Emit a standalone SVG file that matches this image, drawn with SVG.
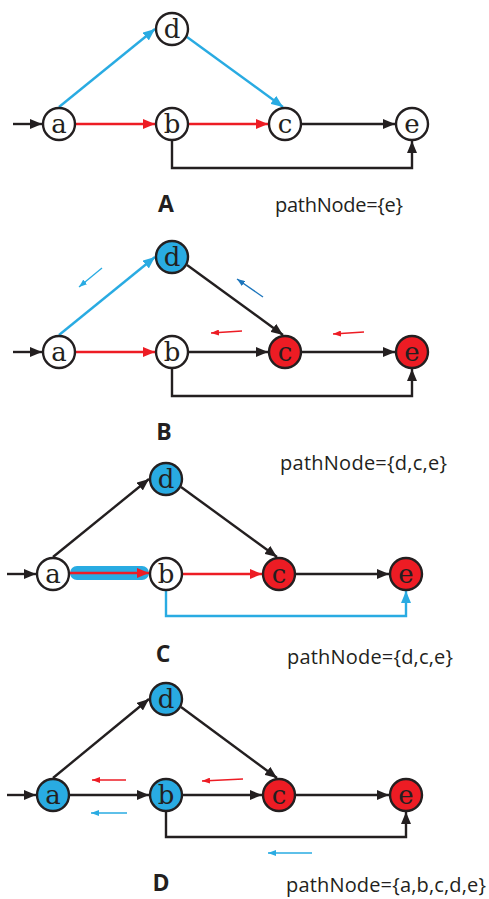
<svg xmlns="http://www.w3.org/2000/svg" width="489" height="899" viewBox="0 0 489 899">
  <style>
    .node { stroke: #231f20; stroke-width: 2.4; }
    .plain { fill: #ffffff; }
    .blue { fill: #29abe2; }
    .red { fill: #ed1c24; }
    .lbl { font-family: "DejaVu Serif", "Liberation Serif", serif; font-size: 26px; fill: #231f20; text-anchor: middle; }
    .edge { fill: none; stroke-width: 2.4; stroke-linejoin: miter; }
    .k { stroke: #231f20; marker-end: url(#ahK); }
    .r { stroke: #ed1c24; marker-end: url(#ahR); }
    .b { stroke: #29abe2; marker-end: url(#ahB); }
    .hint { fill: none; stroke-width: 1.3; }
    .hr { stroke: #ed1c24; marker-end: url(#shR); }
    .hb { stroke: #29abe2; marker-end: url(#shB); }
    .hd { stroke: #1c75bc; marker-end: url(#shD); }
    .title { font-family: "Open Sans", "Liberation Sans", sans-serif; font-weight: bold; font-size: 23px; fill: #231f20; text-anchor: middle; }
    .set { font-family: "Open Sans", "Liberation Sans", sans-serif; font-size: 20px; fill: #231f20; }
  </style>
  <defs>
    <marker id="ahK" markerUnits="userSpaceOnUse" markerWidth="12" markerHeight="10" viewBox="0 0 12 10" refX="12" refY="5" orient="auto">
      <path d="M0,0 L12,5 L0,10 Z" fill="#231f20"/>
    </marker>
    <marker id="ahR" markerUnits="userSpaceOnUse" markerWidth="12" markerHeight="10" viewBox="0 0 12 10" refX="12" refY="5" orient="auto">
      <path d="M0,0 L12,5 L0,10 Z" fill="#ed1c24"/>
    </marker>
    <marker id="ahB" markerUnits="userSpaceOnUse" markerWidth="12" markerHeight="10" viewBox="0 0 12 10" refX="12" refY="5" orient="auto">
      <path d="M0,0 L12,5 L0,10 Z" fill="#29abe2"/>
    </marker>
    <marker id="shR" markerUnits="userSpaceOnUse" markerWidth="8" markerHeight="6" viewBox="0 0 8 6" refX="8" refY="3" orient="auto">
      <path d="M0,0 L8,3 L0,6 Z" fill="#ed1c24"/>
    </marker>
    <marker id="shB" markerUnits="userSpaceOnUse" markerWidth="8" markerHeight="6" viewBox="0 0 8 6" refX="8" refY="3" orient="auto">
      <path d="M0,0 L8,3 L0,6 Z" fill="#29abe2"/>
    </marker>
    <marker id="shD" markerUnits="userSpaceOnUse" markerWidth="8" markerHeight="6" viewBox="0 0 8 6" refX="8" refY="3" orient="auto">
      <path d="M0,0 L8,3 L0,6 Z" fill="#1c75bc"/>
    </marker>
  </defs>

  <!-- Step A -->
  <g id="edges-A">
    <path class="edge k" d="M13,124 H42"/>
    <path class="edge b" d="M59,107 L155,29"/>
    <path class="edge b" d="M187,37 L283,107"/>
    <path class="edge r" d="M76,124 H155"/>
    <path class="edge r" d="M189,124 H268"/>
    <path class="edge k" d="M302,124 H395"/>
    <path class="edge k" d="M172,141 V168 H412 V141"/>
  </g>
  <g id="A-a"><circle class="node plain" cx="59" cy="124" r="16"/><text class="lbl" x="59" y="133">a</text></g>
  <g id="A-b"><circle class="node plain" cx="172" cy="124" r="16"/><text class="lbl" x="172" y="133">b</text></g>
  <g id="A-c"><circle class="node plain" cx="285" cy="124" r="16"/><text class="lbl" x="285" y="133">c</text></g>
  <g id="A-d"><circle class="node plain" cx="172" cy="29" r="16"/><text class="lbl" x="172" y="38">d</text></g>
  <g id="A-e"><circle class="node plain" cx="412" cy="124" r="16"/><text class="lbl" x="412" y="133">e</text></g>
  <text class="title" x="166" y="212">A</text>
  <text class="set" x="275" y="212" textLength="128" lengthAdjust="spacing">pathNode={e}</text>

  <!-- Step B -->
  <g id="edges-B">
    <path class="edge k" d="M13,352 H42"/>
    <path class="edge b" d="M59,335 L155,257"/>
    <path class="edge k" d="M187,265 L283,335"/>
    <path class="edge r" d="M76,352 H155"/>
    <path class="edge k" d="M189,352 H268"/>
    <path class="edge k" d="M302,352 H395"/>
    <path class="edge k" d="M172,369 V396 H412 V369"/>
    <path class="hint hb" d="M102,268 L79,287"/>
    <path class="hint hd" d="M263,297 L237,279"/>
    <path class="hint hr" d="M242,331 L211,333"/>
    <path class="hint hr" d="M364,332 L333,334"/>
  </g>
  <g id="B-a"><circle class="node plain" cx="59" cy="352" r="16"/><text class="lbl" x="59" y="361">a</text></g>
  <g id="B-b"><circle class="node plain" cx="172" cy="352" r="16"/><text class="lbl" x="172" y="361">b</text></g>
  <g id="B-c"><circle class="node red" cx="285" cy="352" r="16"/><text class="lbl" x="285" y="361">c</text></g>
  <g id="B-d"><circle class="node blue" cx="172" cy="257" r="16"/><text class="lbl" x="172" y="266">d</text></g>
  <g id="B-e"><circle class="node red" cx="412" cy="352" r="16"/><text class="lbl" x="412" y="361">e</text></g>
  <text class="title" x="164" y="440">B</text>
  <text class="set" x="280" y="470" textLength="167" lengthAdjust="spacing">pathNode={d,c,e}</text>

  <!-- Step C -->
  <g id="edges-C">
    <rect x="70" y="566" width="79" height="14" rx="7" fill="#29abe2"/>
    <path class="edge k" d="M7,574 H36"/>
    <path class="edge k" d="M53,557 L149,479"/>
    <path class="edge k" d="M181,487 L277,557"/>
    <path class="edge r" d="M70,573 H149"/>
    <path class="edge r" d="M183,574 H262"/>
    <path class="edge k" d="M296,574 H389"/>
    <path class="edge b" d="M166,591 V616 H406 V591"/>
  </g>
  <g id="C-a"><circle class="node plain" cx="53" cy="574" r="16"/><text class="lbl" x="53" y="583">a</text></g>
  <g id="C-b"><circle class="node plain" cx="166" cy="574" r="16"/><text class="lbl" x="166" y="583">b</text></g>
  <g id="C-c"><circle class="node red" cx="279" cy="574" r="16"/><text class="lbl" x="279" y="583">c</text></g>
  <g id="C-d"><circle class="node blue" cx="166" cy="479" r="16"/><text class="lbl" x="166" y="488">d</text></g>
  <g id="C-e"><circle class="node red" cx="406" cy="574" r="16"/><text class="lbl" x="406" y="583">e</text></g>
  <text class="title" x="163" y="662">C</text>
  <text class="set" x="287" y="664" textLength="166" lengthAdjust="spacing">pathNode={d,c,e}</text>

  <!-- Step D -->
  <g id="edges-D">
    <path class="edge k" d="M7,795 H36"/>
    <path class="edge k" d="M53,778 L149,699"/>
    <path class="edge k" d="M181,707 L277,778"/>
    <path class="edge k" d="M70,795 H149"/>
    <path class="edge k" d="M183,795 H262"/>
    <path class="edge k" d="M296,795 H389"/>
    <path class="edge k" d="M166,812 V837 H406 V812"/>
    <path class="hint hr" d="M126,780 L92,780"/>
    <path class="hint hr" d="M243,779 L202,781"/>
    <path class="hint hb" d="M127,813 L91,813"/>
    <path class="hint hb" d="M312,853 L268,853"/>
  </g>
  <g id="D-a"><circle class="node blue" cx="53" cy="795" r="16"/><text class="lbl" x="53" y="804">a</text></g>
  <g id="D-b"><circle class="node blue" cx="166" cy="795" r="16"/><text class="lbl" x="166" y="804">b</text></g>
  <g id="D-c"><circle class="node red" cx="279" cy="795" r="16"/><text class="lbl" x="279" y="804">c</text></g>
  <g id="D-d"><circle class="node blue" cx="166" cy="699" r="16"/><text class="lbl" x="166" y="708">d</text></g>
  <g id="D-e"><circle class="node red" cx="406" cy="795" r="16"/><text class="lbl" x="406" y="804">e</text></g>
  <text class="title" x="161" y="891">D</text>
  <text class="set" x="286" y="892" textLength="200" lengthAdjust="spacing">pathNode={a,b,c,d,e}</text>
</svg>
